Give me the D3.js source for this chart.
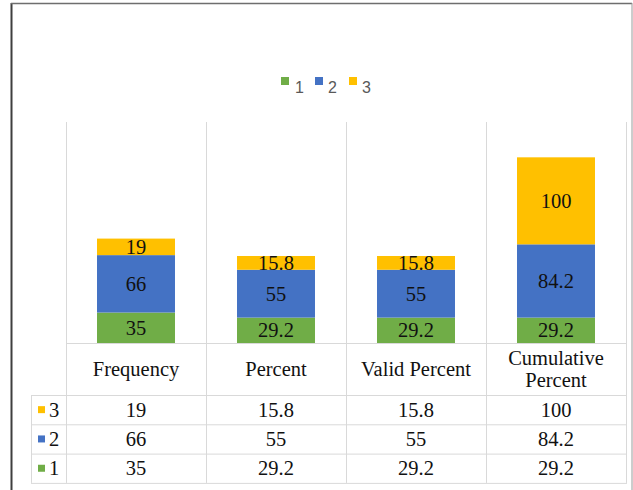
<!DOCTYPE html>
<html>
<head>
<meta charset="utf-8">
<script src="https://cdn.jsdelivr.net/npm/d3@7"></script>
<style>
  html, body { margin: 0; padding: 0; background: #fff; }
  svg { display: block; }
</style>
</head>
<body>
<svg id="chart" width="633" height="490"></svg>
<script>
// Category columns (shared by the bars and the data table)
const categories = ["Frequency", "Percent", "Valid Percent", "Cumulative Percent"];
// Series names, bottom of the stack first
const seriesNames = ["1", "2", "3"];
// Values per series, one per category
const series1 = [35, 29.2, 29.2, 29.2];
const series2 = [66, 55, 55, 84.2];
const series3 = [19, 15.8, 15.8, 100];
const seriesColors = ["#70AD47", "#4472C4", "#FFC000"];

const seriesValues = [series1, series2, series3];
const rows = categories.map((c, i) => {
  const r = { category: c };
  seriesNames.forEach((s, k) => { r[s] = seriesValues[k][i]; });
  return r;
});

const svg = d3.select("#chart");
const serif = "'Liberation Serif', 'Times New Roman', serif";
const sans = "'Liberation Sans', Arial, sans-serif";
const fs = 20.5;

// Plot geometry
const plotLeft = 66, plotRight = 626, plotTop = 122, baseY = 343;
const headerBottom = 395, rowH = 29.3;
const tableBottom = headerBottom + rowH * 3;
const keyLeft = 31;

const x = d3.scaleBand().domain(categories).range([plotLeft, plotRight]).paddingInner(0).paddingOuter(0);
const y = d3.scaleLinear().domain([0, 254]).range([baseY, plotTop]);
const color = d3.scaleOrdinal().domain(seriesNames).range(seriesColors);

const stacked = d3.stack().keys(seriesNames)(rows);

// Outer frame
svg.append("line").attr("x1", 11.5).attr("x2", 11.5).attr("y1", 3).attr("y2", 490)
  .attr("stroke", "#3f3f3f").attr("stroke-width", 2);
svg.append("line").attr("x1", 11).attr("x2", 632).attr("y1", 3.5).attr("y2", 3.5)
  .attr("stroke", "#6e6e6e").attr("stroke-width", 1.5);
svg.append("line").attr("x1", 632).attr("x2", 632).attr("y1", 3).attr("y2", 490)
  .attr("stroke", "#9a9a9a").attr("stroke-width", 1);

const gridColor = "#d9d9d9";
// Vertical gridlines at column edges, running through the plot and the table
const edges = categories.map(c => x(c)).concat([plotRight]);
svg.append("g").selectAll("line").data(edges).join("line")
  .attr("x1", d => d + 0.5).attr("x2", d => d + 0.5)
  .attr("y1", plotTop).attr("y2", tableBottom)
  .attr("stroke", gridColor).attr("stroke-width", 1);

// Table horizontal lines
const hLines = [
  { y: baseY, x1: plotLeft },
  { y: headerBottom, x1: keyLeft },
  { y: headerBottom + rowH, x1: keyLeft },
  { y: headerBottom + rowH * 2, x1: keyLeft },
  { y: tableBottom, x1: keyLeft }
];
svg.append("g").selectAll("line").data(hLines).join("line")
  .attr("x1", d => d.x1).attr("x2", plotRight + 1)
  .attr("y1", d => d.y + 0.5).attr("y2", d => d.y + 0.5)
  .attr("stroke", gridColor).attr("stroke-width", 1);
// Left edge of the legend-key column
svg.append("line").attr("x1", keyLeft + 0.5).attr("x2", keyLeft + 0.5)
  .attr("y1", headerBottom).attr("y2", tableBottom)
  .attr("stroke", gridColor).attr("stroke-width", 1);

// Stacked bars
const barW = x.bandwidth() * 0.557;
const layers = svg.append("g").selectAll("g").data(stacked).join("g")
  .attr("fill", d => color(d.key));
layers.selectAll("rect").data(d => d).join("rect")
  .attr("x", d => x(d.data.category) + (x.bandwidth() - barW) / 2)
  .attr("width", barW)
  .attr("y", d => y(d[1]))
  .attr("height", d => y(d[0]) - y(d[1]));

// Value labels centred in each segment
const labelLayers = svg.append("g").selectAll("g").data(stacked).join("g");
labelLayers.selectAll("text").data(d => d.map(p => ({ p, key: d.key }))).join("text")
  .attr("x", d => x(d.p.data.category) + x.bandwidth() / 2)
  .attr("y", d => (y(d.p[0]) + y(d.p[1])) / 2)
  .attr("dy", "0.35em")
  .attr("text-anchor", "middle")
  .attr("font-family", serif).attr("font-size", fs)
  .attr("fill", "#111")
  .text(d => d.p.data[d.key]);

// Legend
const legendItems = [
  { key: "1", sx: 281, tx: 295 },
  { key: "2", sx: 315, tx: 328 },
  { key: "3", sx: 349, tx: 362 }
];
const legend = svg.append("g");
legend.selectAll("rect").data(legendItems).join("rect")
  .attr("x", d => d.sx).attr("y", 77).attr("width", 8).attr("height", 8)
  .attr("fill", d => color(d.key));
legend.selectAll("text").data(legendItems).join("text")
  .attr("x", d => d.tx).attr("y", 93)
  .attr("font-family", sans).attr("font-size", 16)
  .attr("fill", "#595959")
  .text(d => d.key);

// Table header: category names, wrapped to two lines when too wide
const header = svg.append("g");
categories.forEach(c => {
  const cx = x(c) + x.bandwidth() / 2;
  const cy = (baseY + headerBottom) / 2;
  const t = header.append("text")
    .attr("text-anchor", "middle")
    .attr("font-family", serif).attr("font-size", fs)
    .attr("fill", "#111");
  t.text(c);
  const w = t.node().getComputedTextLength();
  if (w > x.bandwidth() - 12) {
    t.text(null);
    const words = c.split(" ");
    const half = Math.ceil(words.length / 2);
    const lines = [words.slice(0, half).join(" "), words.slice(half).join(" ")];
    lines.forEach((ln, i) => {
      t.append("tspan").attr("x", cx).attr("y", cy + (i - 0.5) * 22).attr("dy", "0.35em").text(ln);
    });
  } else {
    t.attr("x", cx).attr("y", cy).attr("dy", "0.35em");
  }
});

// Table body: one row per series, top series first
const tableSeries = seriesNames.slice().reverse();
const body = svg.append("g");
tableSeries.forEach((s, ri) => {
  const cy = headerBottom + rowH * ri + rowH / 2;
  body.append("rect").attr("x", 38).attr("y", cy - 3.5).attr("width", 7).attr("height", 7)
    .attr("fill", color(s));
  body.append("text").attr("x", 49).attr("y", cy).attr("dy", "0.35em")
    .attr("font-family", serif).attr("font-size", fs).attr("fill", "#111")
    .text(s);
  const vals = seriesValues[seriesNames.indexOf(s)];
  categories.forEach((c, ci) => {
    body.append("text")
      .attr("x", x(c) + x.bandwidth() / 2).attr("y", cy).attr("dy", "0.35em")
      .attr("text-anchor", "middle")
      .attr("font-family", serif).attr("font-size", fs).attr("fill", "#111")
      .text(vals[ci]);
  });
});
</script>
</body>
</html>
